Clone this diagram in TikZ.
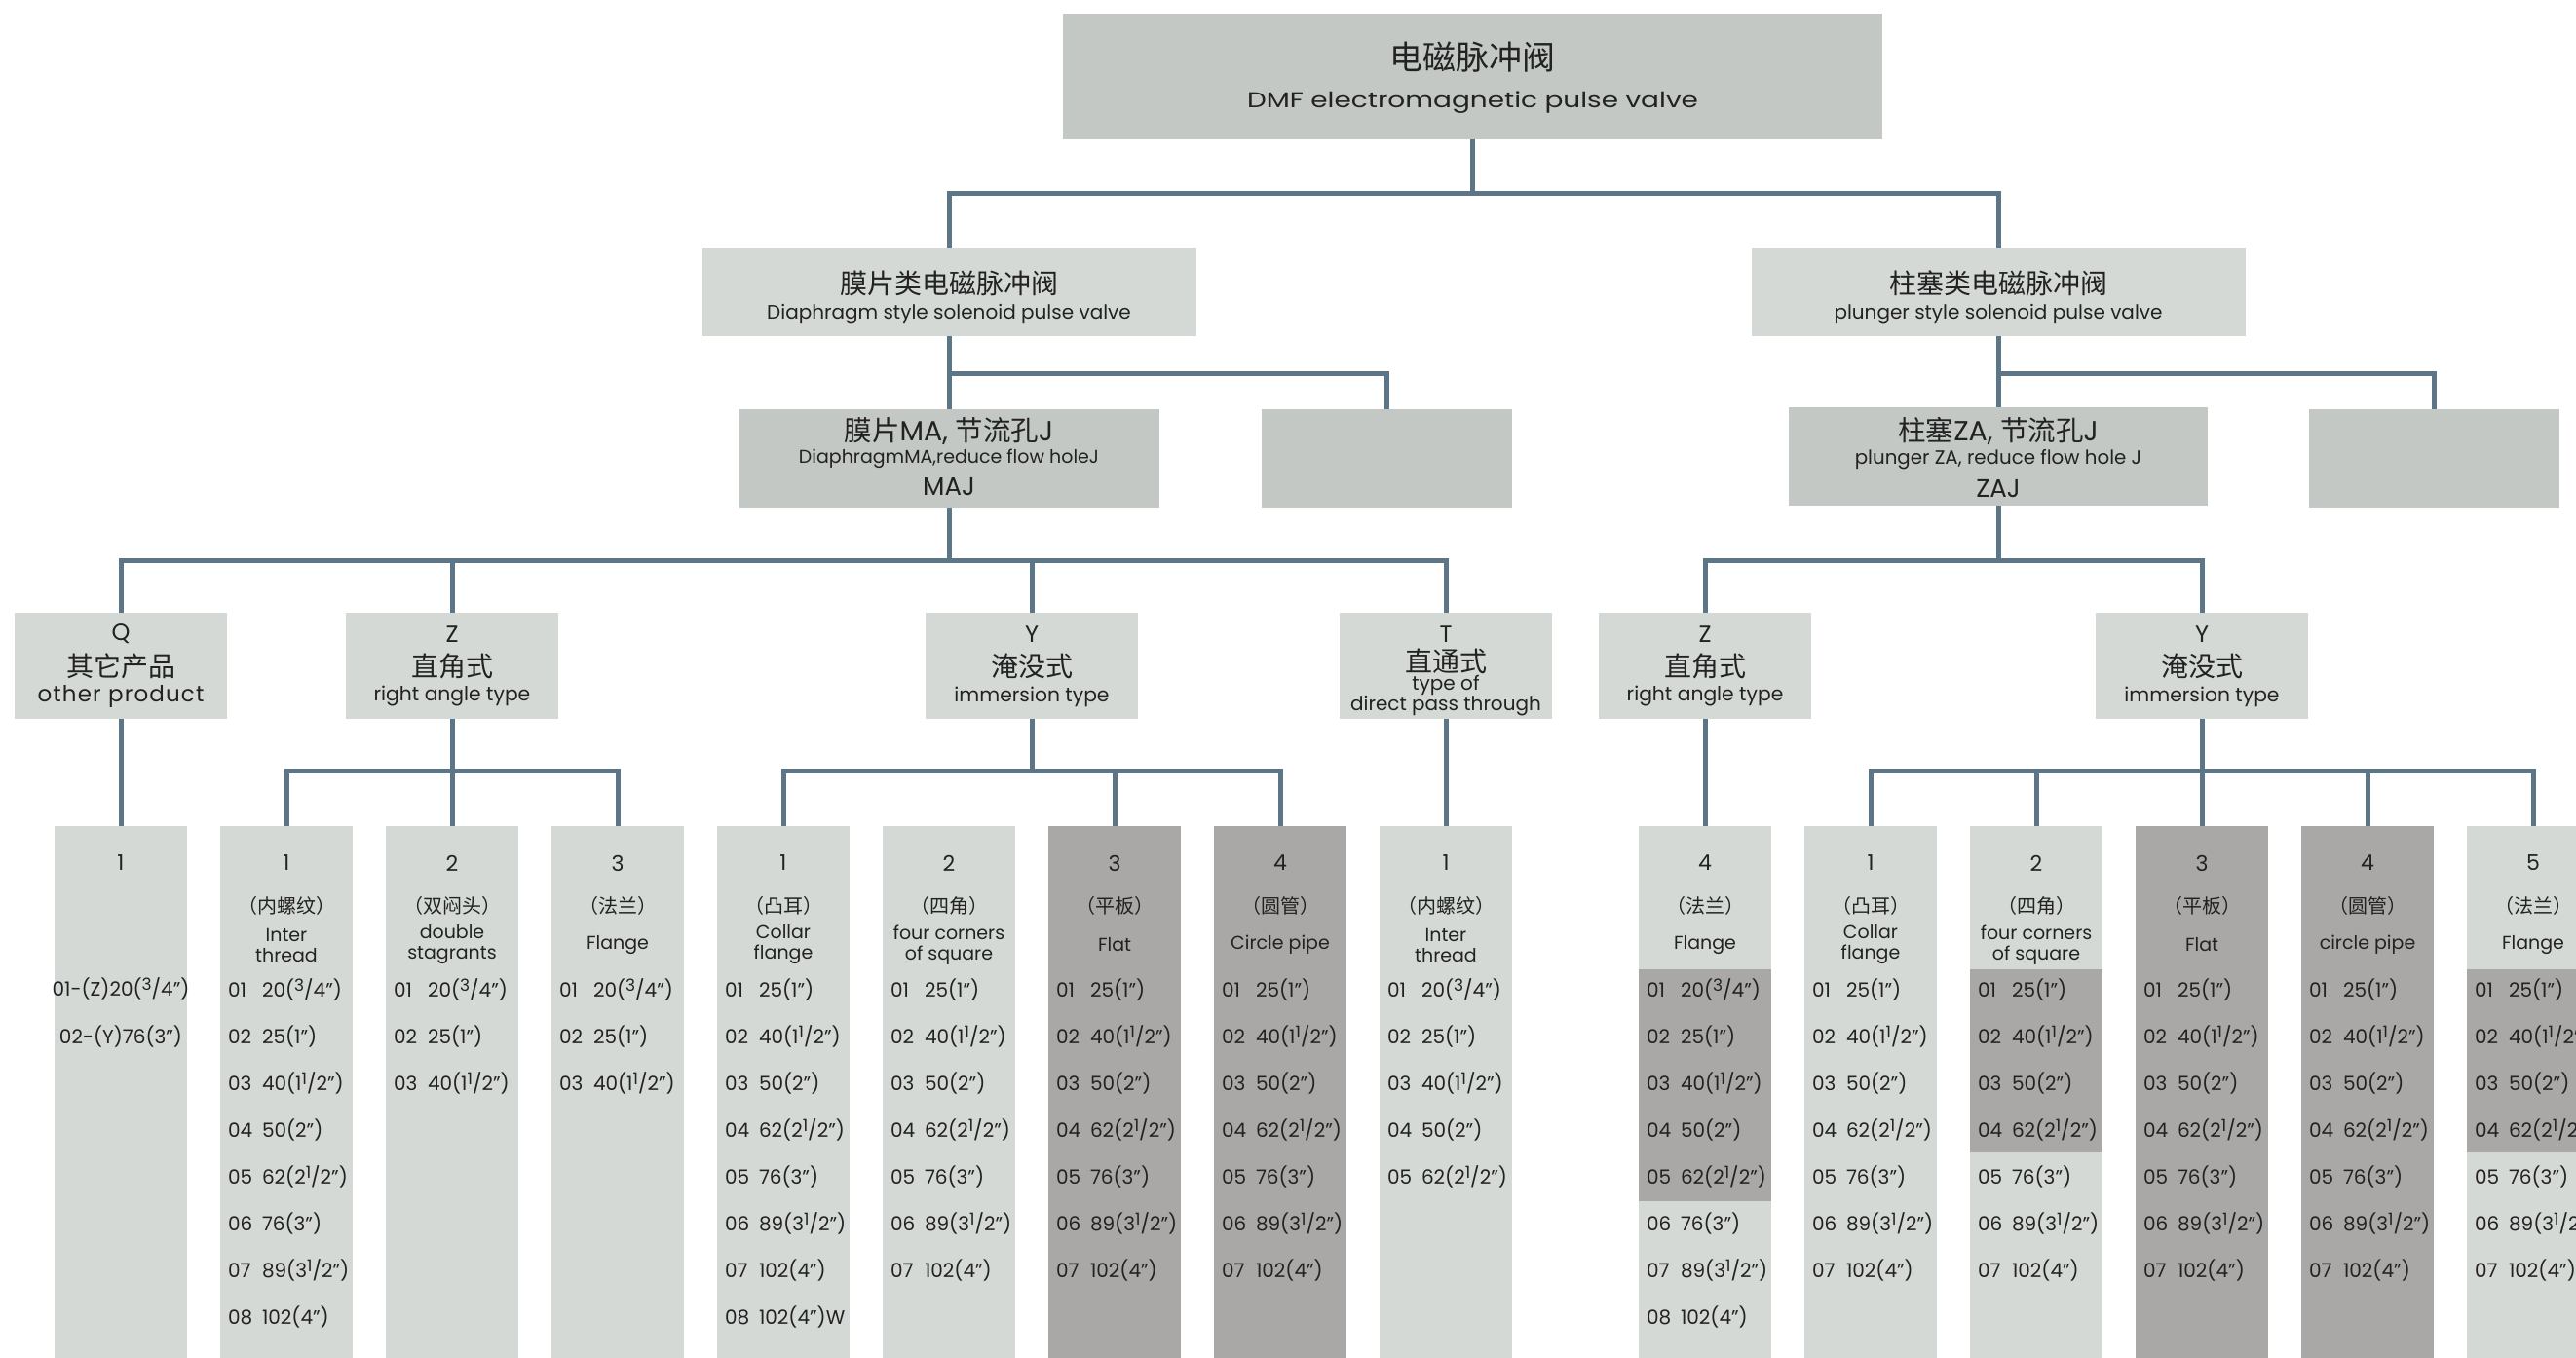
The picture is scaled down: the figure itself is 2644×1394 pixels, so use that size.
\documentclass[tikz,border=0pt]{standalone}
\usepackage{fontspec}
\setmainfont{Poppins}
\newfontfamily\cjk{Noto Sans CJK SC}
\definecolor{linec}{HTML}{5C7587}
\definecolor{boxd}{HTML}{C3C8C4}
\definecolor{boxl}{HTML}{D5D9D6}
\definecolor{colg}{HTML}{A9A8A7}
\definecolor{txt}{HTML}{222222}
\newcommand\fz[1]{\fontsize{#1}{#1}\selectfont}
\newcommand\frc[2]{\raisebox{0.3em}{\scalebox{0.85}{#1}}/#2}
\def\LA{{20(\frc34”)},{25(1”)},{40(1\frc12”)},{50(2”)},{62(2\frc12”)},{76(3”)},{89(3\frc12”)},{102(4”)}}
\def\LAc{{20(\frc34”)},{25(1”)},{40(1\frc12”)}}
\def\LAe{{20(\frc34”)},{25(1”)},{40(1\frc12”)},{50(2”)},{62(2\frc12”)}}
\def\LB{{25(1”)},{40(1\frc12”)},{50(2”)},{62(2\frc12”)},{76(3”)},{89(3\frc12”)},{102(4”)}}
\def\LBw{{25(1”)},{40(1\frc12”)},{50(2”)},{62(2\frc12”)},{76(3”)},{89(3\frc12”)},{102(4”)},{102(4”)W}}
\newcommand\mkcol[6]{%
  \node[numt] (#1-n) at (#2+68,886) {#3};
  \node[cjl] (#1-c) at (#2+68,930) {（#4）};
  \node[engt] (#1-e) at (#2+68,970) {#5};
  \foreach \v [count=\i] in #6 {
    \node[rowt] (#1-l\i) at (#2+8,1023.5+48*\i-48) {0\i};
    \node[rowt] (#1-v\i) at (#2+43,1023.5+48*\i-48) {\v};
  }%
}
\tikzset{
  blk/.style={rectangle, inner sep=0pt, outer sep=0pt, draw=none},
  dk/.style={blk, fill=boxd},
  lt/.style={blk, fill=boxl},
  conn/.style={draw=linec, line width=5pt},
  tx/.style={inner sep=0pt, outer sep=0pt, text=txt},
  hdr/.style={lt, minimum width=218pt, minimum height=109pt},
  colL/.style={lt, anchor=north, minimum width=136pt, minimum height=552pt},
  colD/.style={blk, fill=colg, anchor=north, minimum width=136pt, minimum height=552pt},
  band/.style={blk, fill=colg, anchor=north, minimum width=136pt},
  numt/.style={tx, font=\fz{22}},
  cjl/.style={tx, font=\cjk\fz{20}},
  engt/.style={tx, font=\fontsize{19}{21}\selectfont, align=center},
  rowt/.style={tx, anchor=base west, font=\fz{20}},
  hl/.style={tx, font=\fz{24}},
  hc/.style={tx, font=\cjk\fz{28}},
  he/.style={tx, font=\fz{20.3}},
}
\begin{document}
\begin{tikzpicture}[x=1pt, y=-1pt]
\useasboundingbox (0,0) rectangle (2644,1394);
% ---------- boxes
\node[dk, minimum width=841pt, minimum height=129pt] (top) at (1511.5,78.5) {};
\node[lt, minimum width=507pt, minimum height=90pt] (l2a) at (974,300) {};
\node[lt, minimum width=507pt, minimum height=90pt] (l2b) at (2051,300) {};
\node[dk, minimum width=431pt, minimum height=101pt] (maj) at (974,470.5) {};
\node[dk, minimum width=257pt, minimum height=101pt] (e1) at (1423.5,470.5) {};
\node[dk, minimum width=430pt, minimum height=101pt] (zaj) at (2051,468.5) {};
\node[dk, minimum width=257pt, minimum height=101pt] (e2) at (2498.5,470.5) {};
\node[hdr] (hQ) at (124,683.5) {};
\node[hdr] (hZ) at (464,683.5) {};
\node[hdr] (hY) at (1059,683.5) {};
\node[hdr] (hT) at (1484,683.5) {};
\node[hdr] (hRZ) at (1750,683.5) {};
\node[hdr] (hRY) at (2260,683.5) {};
% ---------- columns
\node[colL] (cQ) at (124,848) {};
\node[colL] (cZ1) at (294,848) {};
\node[colL] (cZ2) at (464,848) {};
\node[colL] (cZ3) at (634,848) {};
\node[colL] (cY1) at (804,848) {};
\node[colL] (cY2) at (974,848) {};
\node[colD] (cY3) at (1144,848) {};
\node[colD] (cY4) at (1314,848) {};
\node[colL] (cT1) at (1484,848) {};
\node[colL] (cR0) at (1750,848) {};
\node[colL] (cR1) at (1920,848) {};
\node[colL] (cR2) at (2090,848) {};
\node[colD] (cR3) at (2260,848) {};
\node[colD] (cR4) at (2430,848) {};
\node[colL] (cR5) at (2600,848) {};
\node[band, minimum height=238pt] (bR0) at (1750,995) {};
\node[band, minimum height=188pt] (bR2) at (2090,995) {};
\node[band, minimum height=188pt] (bR5) at (2600,995) {};
% ---------- connectors
\draw[conn] (top.south) -- ++(0,55) -| (l2a.north);
\draw[conn] (top.south) -- ++(0,55) -| (l2b.north);
\draw[conn] (l2a.south) -- ++(0,38) -| (maj.north);
\draw[conn] (l2a.south) -- ++(0,38) -| (e1.north);
\draw[conn] (l2b.south) -- ++(0,38) -| (zaj.north);
\draw[conn] (l2b.south) -- ++(0,38) -| (e2.north);
\foreach \h in {hQ,hZ,hY,hT} \draw[conn] (maj.south) -- ++(0,54) -| (\h.north);
\foreach \h in {hRZ,hRY} \draw[conn] (zaj.south) -- ++(0,56) -| (\h.north);
\draw[conn] (hQ.south) -- (cQ.north);
\foreach \c in {cZ1,cZ2,cZ3} \draw[conn] (hZ.south) -- ++(0,53) -| (\c.north);
\foreach \c in {cY1,cY3,cY4} \draw[conn] (hY.south) -- ++(0,53) -| (\c.north);
\draw[conn] (hT.south) -- (cT1.north);
\draw[conn] (hRZ.south) -- (cR0.north);
\foreach \c in {cR1,cR2,cR3,cR4,cR5} \draw[conn] (hRY.south) -- ++(0,53) -| (\c.north);
% ---------- texts of upper boxes
\node[tx, font=\cjk\fz{34}] (topc) at (1511.5,59) {电磁脉冲阀};
\node[tx, font=\fz{22}] (tope) at (1511.5,105) {\scalebox{1.27}[1]{DMF electromagnetic pulse valve}};
\node[tx, font=\cjk\fz{28}] (l2ac) at (974,291) {膜片类电磁脉冲阀};
\node[tx, font=\fz{20}] (l2ae) at (974,323) {Diaphragm style solenoid pulse valve};
\node[tx, font=\cjk\fz{28}] (l2bc) at (2051,291) {柱塞类电磁脉冲阀};
\node[tx, font=\fz{20}] (l2be) at (2051,323) {plunger style solenoid pulse valve};
\node[tx, font=\fz{28.5}] (majc) at (974,443) {{\cjk 膜片}MA, {\cjk 节流孔}J};
\node[tx, font=\fz{19}] (maje) at (974,471) {DiaphragmMA,reduce flow holeJ};
\node[tx, font=\fz{26}] (majm) at (974,500) {MAJ};
\node[tx, font=\fz{28.5}] (zajc) at (2051,442) {{\cjk 柱塞}ZA, {\cjk 节流孔}J};
\node[tx, font=\fz{19.8}] (zaje) at (2051,472) {plunger ZA, reduce flow hole J};
\node[tx, font=\fz{26}] (zajm) at (2051,502) {ZAJ};
% ---------- header texts
\node[hl] (hQl) at (124,651) {Q};
\node[hc] (hQc) at (124,683.5) {其它产品};
\node[tx, font=\fz{23}\addfontfeatures{LetterSpace=5}] (hQe) at (124,715) {other product};
\node[hl] (hZl) at (464,651) {Z};
\node[hc] (hZc) at (464,683.5) {直角式};
\node[he] (hZe) at (464,715) {right angle type};
\node[hl] (hYl) at (1059,651) {Y};
\node[hc] (hYc) at (1059,683.5) {淹没式};
\node[he] (hYe) at (1059,715) {immersion type};
\node[hl] (hTl) at (1484,651) {T};
\node[hc] (hTc) at (1484,678.5) {直通式};
\node[he, align=center, font=\fontsize{20}{17}\selectfont] (hTe) at (1484,714) {type of\\direct pass through};
\node[hl] (hRZl) at (1750,651) {Z};
\node[hc] (hRZc) at (1750,683.5) {直角式};
\node[he] (hRZe) at (1750,715) {right angle type};
\node[hl] (hRYl) at (2260,651) {Y};
\node[hc] (hRYc) at (2260,683.5) {淹没式};
\node[he] (hRYe) at (2260,715) {immersion type};
% ---------- column texts
\node[numt] (cQ-n) at (124,886) {1};
\node[rowt, anchor=base] (cQ-r1) at (124,1022.5) {01-(Z)20(\frc34”)};
\node[rowt, anchor=base] (cQ-r2) at (124,1071.5) {02-(Y)76(3”)};
\mkcol{cZ1}{226}{1}{内螺纹}{Inter\\thread}{\LA}
\mkcol{cZ2}{396}{2}{双闷头}{double\\stagrants}{\LAc}
\mkcol{cZ3}{566}{3}{法兰}{Flange}{\LAc}
\mkcol{cY1}{736}{1}{凸耳}{Collar\\flange}{\LBw}
\mkcol{cY2}{906}{2}{四角}{four corners\\of square}{\LB}
\mkcol{cY3}{1076}{3}{平板}{Flat}{\LB}
\mkcol{cY4}{1246}{4}{圆管}{Circle pipe}{\LB}
\mkcol{cT1}{1416}{1}{内螺纹}{Inter\\thread}{\LAe}
\mkcol{cR0}{1682}{4}{法兰}{Flange}{\LA}
\mkcol{cR1}{1852}{1}{凸耳}{Collar\\flange}{\LB}
\mkcol{cR2}{2022}{2}{四角}{four corners\\of square}{\LB}
\mkcol{cR3}{2192}{3}{平板}{Flat}{\LB}
\mkcol{cR4}{2362}{4}{圆管}{circle pipe}{\LB}
\mkcol{cR5}{2532}{5}{法兰}{Flange}{\LB}
\end{tikzpicture}
\end{document}
